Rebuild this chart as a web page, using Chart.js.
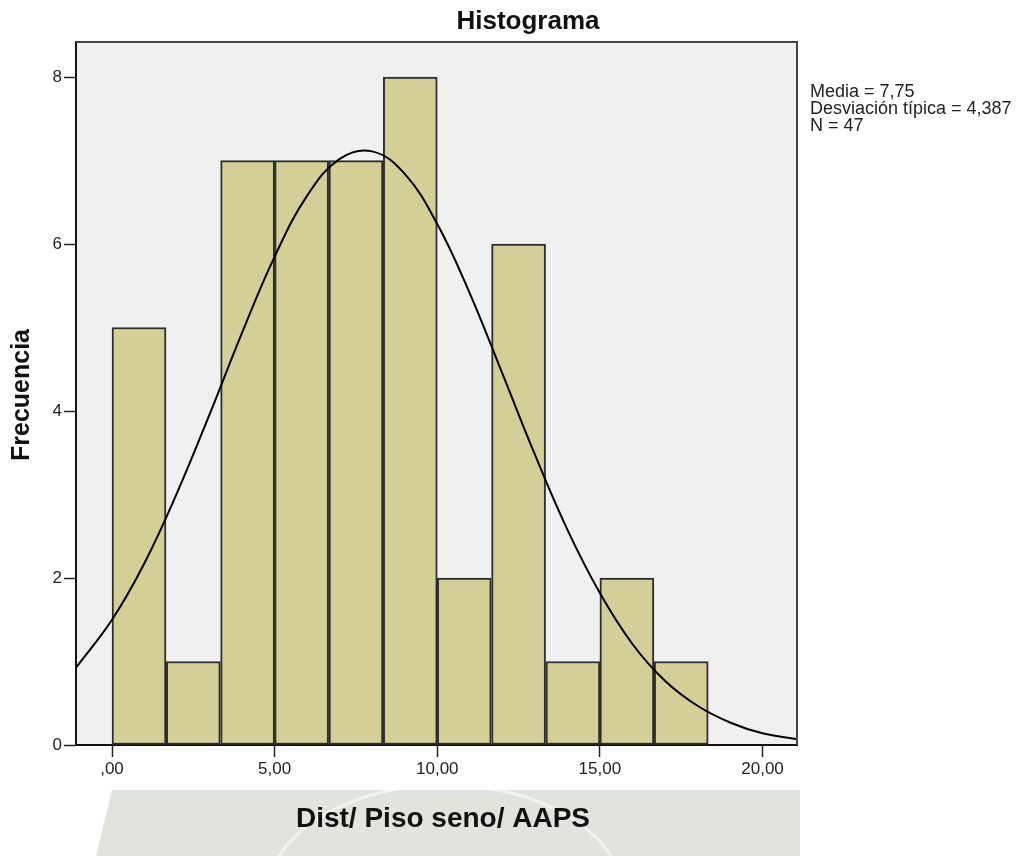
<!DOCTYPE html>
<html>
<head>
<meta charset="utf-8">
<title>Histograma</title>
<script src="https://cdn.jsdelivr.net/npm/chart.js@4"></script>
<style>
    html, body { margin: 0; padding: 0; background: #fff; }
    #wrap { width: 1022px; height: 856px; position: relative; }
</style>
</head>
<body>
<div id="wrap"><canvas id="chart"></canvas></div>
<script>
// histogram bins (centres) and frequencies
const binCenters = [0.83, 2.5, 4.17, 5.83, 7.5, 9.17, 10.83, 12.5, 14.17, 15.83, 17.5];
const counts = [5, 1, 7, 7, 7, 8, 2, 6, 1, 2, 1];

// normal curve
const curveX = [-1.1, 0, 1, 2, 3, 4, 5, 6, 7, 8, 9, 10, 11, 12, 13, 14, 15, 16, 17, 18, 19, 20, 21.06];
const curveY = [0.93, 1.5, 2.18, 3.02, 3.96, 4.94, 5.85, 6.58, 7.02, 7.11, 6.84, 6.24, 5.41, 4.45, 3.48, 2.58, 1.82, 1.21, 0.77, 0.47, 0.27, 0.14, 0.07];

const xTicks = [0, 5, 10, 15, 20];
const xTickLabels = [',00', '5,00', '10,00', '15,00', '20,00'];
const yTicks = [0, 2, 4, 6, 8];

const statsLines = ['Media = 7,75', 'Desviación típica = 4,387', 'N = 47'];

const FONT = 'Arial, "Liberation Sans", sans-serif';

const decor = {
    id: 'decor',
    beforeDraw(chart) {
        const ctx = chart.ctx;
        const a = chart.chartArea;
        ctx.save();
        // faint watermark band at the bottom
        ctx.fillStyle = 'rgb(224,228,221)';
        ctx.beginPath();
        ctx.moveTo(112, 790);
        ctx.lineTo(800, 790);
        ctx.lineTo(800, 856);
        ctx.lineTo(96, 856);
        ctx.closePath();
        ctx.fill();
        ctx.strokeStyle = 'rgba(255,255,255,0.55)';
        ctx.lineWidth = 3;
        ctx.beginPath();
        ctx.ellipse(445, 900, 180, 115, 0, Math.PI, 2 * Math.PI);
        ctx.stroke();
        // plot background
        ctx.fillStyle = '#f0f0f0';
        ctx.fillRect(a.left, a.top, a.right - a.left, a.bottom - a.top);
        ctx.restore();
    },
    afterDraw(chart) {
        const ctx = chart.ctx;
        const a = chart.chartArea;
        ctx.save();
        ctx.strokeStyle = '#444';
        ctx.lineWidth = 2;
        ctx.beginPath();
        ctx.moveTo(a.left, a.top);
        ctx.lineTo(a.right, a.top);
        ctx.lineTo(a.right, a.bottom);
        ctx.stroke();

        ctx.fillStyle = '#111';
        ctx.textAlign = 'center';
        ctx.textBaseline = 'alphabetic';
        ctx.font = 'bold 26px ' + FONT;
        ctx.fillText('Histograma', 528, 29);

        ctx.font = 'bold 28px ' + FONT;
        ctx.fillText('Dist/ Piso seno/ AAPS', 443, 827);

        ctx.save();
        ctx.translate(22, 395);
        ctx.rotate(-Math.PI / 2);
        ctx.font = 'bold 25px ' + FONT;
        ctx.textBaseline = 'middle';
        ctx.fillText('Frecuencia', 0, 0);
        ctx.restore();

        ctx.textAlign = 'left';
        ctx.fillStyle = '#222';
        ctx.font = '18px ' + FONT;
        statsLines.forEach((t, i) => ctx.fillText(t, 810, 97 + i * 17));
        ctx.restore();
    }
};

new Chart(document.getElementById('chart'), {
    type: 'bar',
    data: {
        datasets: [{
            type: 'line',
            data: curveX.map((x, i) => ({ x: x, y: curveY[i] })),
            borderColor: '#000',
            borderWidth: 2,
            pointRadius: 0,
            tension: 0.4,
            fill: false,
            order: 0
        }, {
            type: 'bar',
            data: binCenters.map((x, i) => ({ x: x, y: counts[i] })),
            backgroundColor: 'rgb(211,207,151)',
            borderColor: '#2e2e2e',
            borderWidth: 2,
            borderSkipped: false,
            barPercentage: 1,
            categoryPercentage: 1,
            order: 1
        }]
    },
    options: {
        responsive: true,
        maintainAspectRatio: false,
        animation: false,
        layout: { padding: { left: 0, right: 225, top: 42, bottom: 0 } },
        plugins: { legend: { display: false }, tooltip: { enabled: false } },
        scales: {
            x: {
                type: 'linear',
                min: -1.107,
                max: 21.06,
                offset: false,
                afterFit: s => { s.height = 111; },
                afterBuildTicks: s => { s.ticks = xTicks.map(v => ({ value: v })); },
                grid: { offset: false, drawOnChartArea: false, drawTicks: true, tickLength: 12, tickColor: '#222', tickWidth: 1.5 },
                border: { color: '#111', width: 2 },
                ticks: {
                    padding: 2,
                    color: '#222',
                    font: { family: FONT, size: 17 },
                    callback: v => xTickLabels[xTicks.indexOf(v)]
                }
            },
            y: {
                min: 0,
                max: 8.42,
                afterFit: s => { s.width = 76; },
                afterBuildTicks: s => { s.ticks = yTicks.map(v => ({ value: v })); },
                grid: { drawOnChartArea: false, drawTicks: true, tickLength: 12, tickColor: '#222', tickWidth: 1.5 },
                border: { color: '#111', width: 2 },
                ticks: {
                    padding: 2,
                    color: '#222',
                    font: { family: FONT, size: 17 }
                }
            }
        }
    },
    plugins: [decor]
});
</script>
</body>
</html>
